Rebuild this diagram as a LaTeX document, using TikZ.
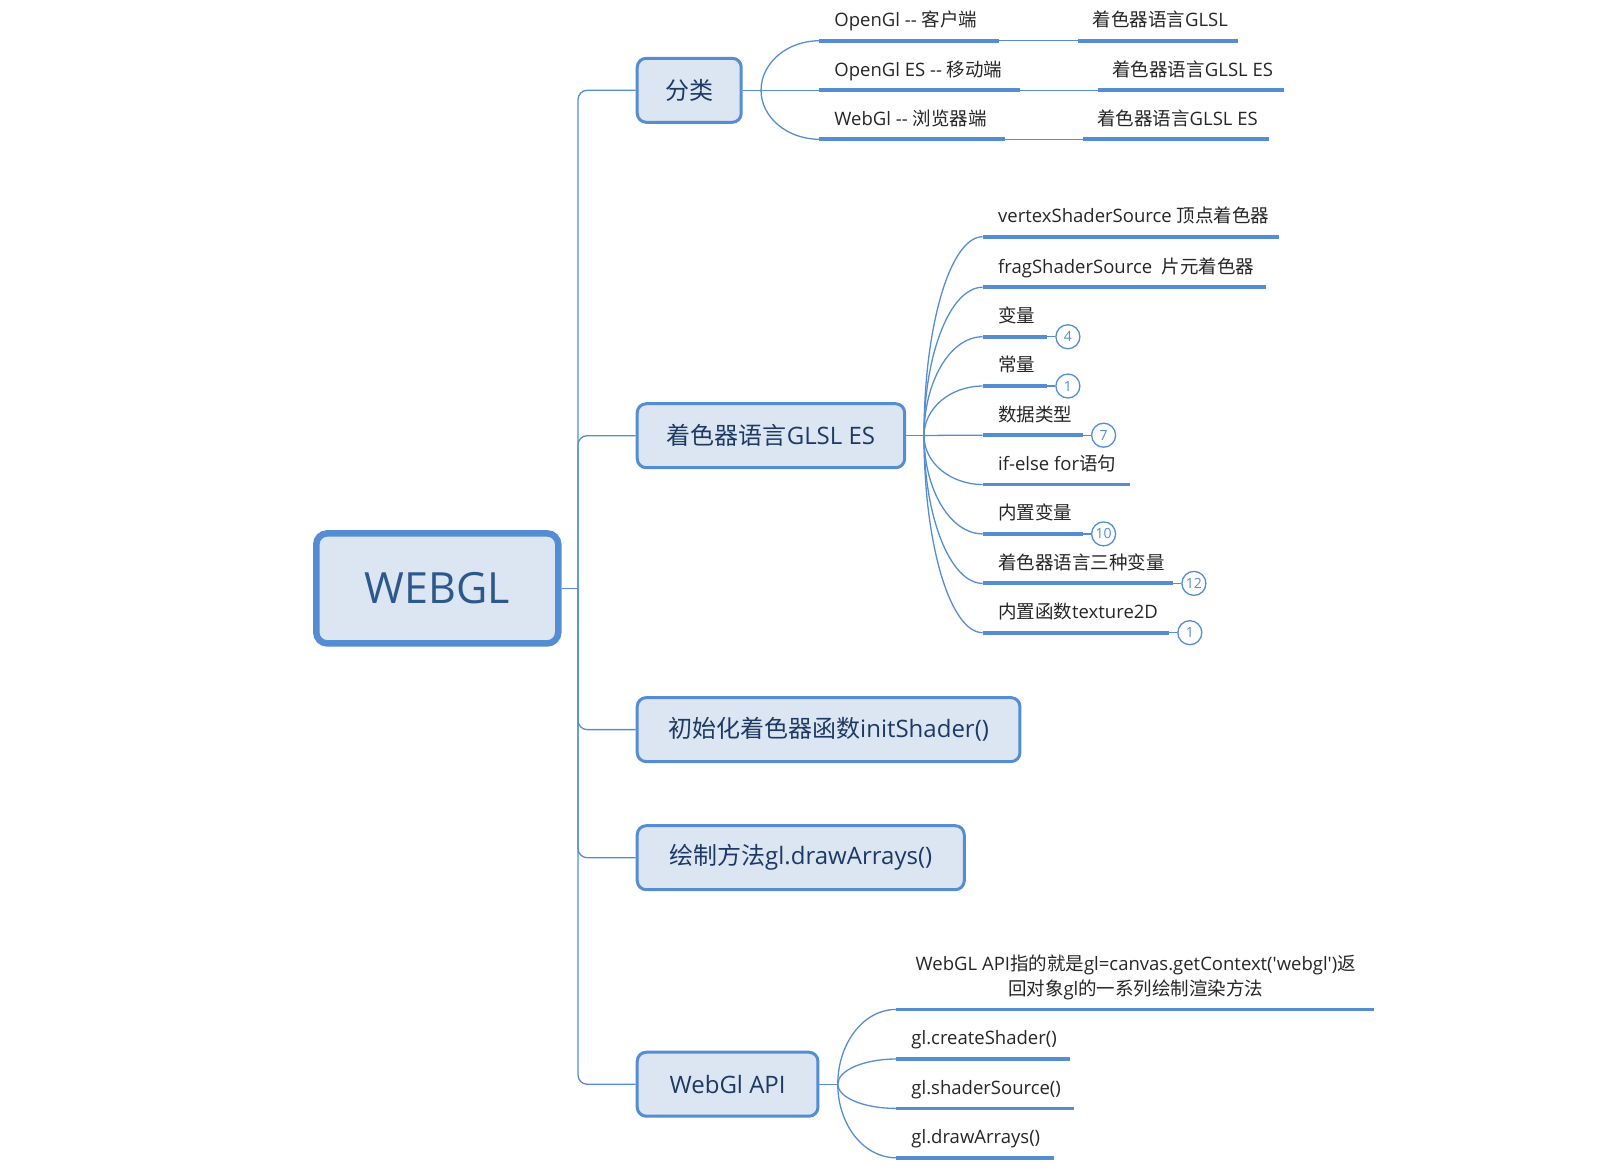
\documentclass[tikz,border=0pt]{standalone}
\usepackage{fontspec}
\setmainfont{Open Sans}[Ligatures=TeXOff]
\newfontfamily\zhf{Noto Sans CJK SC}
\newcommand\zhs[1]{{\zhf #1}}
\usetikzlibrary{calc}
\definecolor{lineblue}{RGB}{84,141,212}
\definecolor{boxfill}{RGB}{220,230,242}
\definecolor{boxtext}{RGB}{30,58,100}
\definecolor{roottext}{RGB}{45,88,140}
\definecolor{leaftext}{RGB}{38,38,38}
\newcommand\qarc[2]{\draw[conn] let \p1=(#1), \p2=(#2) in (\p1) .. controls (\x1,{\y1+0.552*(\y2-\y1)}) and ({\x2-0.552*(\x2-\x1)},\y2) .. (\p2);}
\begin{document}
\begin{tikzpicture}[x=1.0204pt,y=-1.0204pt,
  conn/.style={draw=lineblue, line width=1.3pt},
  uline/.style={draw=lineblue, line width=3.8pt},
  rootbox/.style={draw=lineblue, fill=boxfill, line width=6.5pt, rounded corners=11pt, minimum width=242pt, minimum height=110pt, text=roottext, font=\fontsize{43}{50}\selectfont},
  branch/.style={draw=lineblue, fill=boxfill, line width=3pt, rounded corners=9pt, minimum height=64pt, anchor=west, text=boxtext, font=\fontsize{24}{29}\selectfont, inner sep=0pt},
  leaf/.style={anchor=base west, inner sep=0pt, text=leaftext, font=\fontsize{18.5}{24.5}\selectfont},
  badge/.style={circle, draw=lineblue, line width=1.3pt, fill=white, minimum size=24pt, inner sep=0pt, text=lineblue, font=\fontsize{14}{16}\selectfont},
]
\useasboundingbox (0,0) rectangle (1566,1149.5);

% root and main branches
\node[rootbox] (root) at (428.5,576.6) {WEBGL};
\coordinate (hub) at (566.5,576.6);
\node[branch, minimum width=104pt] (b1) at (623,88.5) {\zhs{分类}};
\node[branch, minimum width=267.4pt] (b2) at (623,427) {\zhs{着色器语言}GLSL ES};
\node[branch, minimum width=382.7pt] (b3) at (623,715) {\zhs{初始化着色器函数}initShader()};
\node[branch, minimum width=327pt] (b4) at (623,840.5) {\zhs{绘制方法}gl.drawArrays()};
\node[branch, minimum width=180.7pt] (b5) at (623,1062.5) {WebGl API};

\draw[conn] (root.east) -- (hub);
\foreach \b in {b1,b2,b3,b4,b5} {\draw[conn, rounded corners=9pt] (hub) |- (\b.west);}

% branch 1
\coordinate (h1) at (745.8,88.5);
\draw[conn] (b1.east) -- (h1);
\coordinate (a1) at (803,39.9);
\coordinate (a2) at (803,88.5);
\coordinate (a3) at (803,136.5);
\qarc{h1}{a1}
\qarc{h1}{a2}
\qarc{h1}{a3}
\node[leaf] (t1) at (817.5,26.1) {OpenGl -- \zhs{客户端}};
\node[leaf] (t2) at (817.5,74.7) {OpenGl ES -- \zhs{移动端}};
\node[leaf] (t3) at (817.5,122.7) {WebGl -- \zhs{浏览器端}};
\draw[uline] (a1) -- (979,39.9) coordinate (a1e);
\draw[uline] (a2) -- (999.6,88.5) coordinate (a2e);
\draw[uline] (a3) -- (985,136.5) coordinate (a3e);
\coordinate (r1) at (1056.5,39.9);
\coordinate (r2) at (1076,88.5);
\coordinate (r3) at (1061,136.5);
\draw[conn] (a1e) -- (r1);
\draw[conn] (a2e) -- (r2);
\draw[conn] (a3e) -- (r3);
\node[leaf] (t1r) at (1070.5,26.1) {\zhs{着色器语言}GLSL};
\node[leaf] (t2r) at (1090,74.7) {\zhs{着色器语言}GLSL ES};
\node[leaf] (t3r) at (1075,122.7) {\zhs{着色器语言}GLSL ES};
\draw[uline] (r1) -- (1213,39.9);
\draw[uline] (r2) -- (1258,88.5);
\draw[uline] (r3) -- (1244,136.5);

% branch 2
\coordinate (h2) at (905.5,427);
\draw[conn] (b2.east) -- (h2);
\foreach \i/\y in {1/232,2/281.5,3/330,4/378.3,5/426.5,6/474.8,7/523.2,8/571.7,9/620}
  {\coordinate (g\i) at (963,\y);}
\foreach \i in {1,...,9} {\qarc{h2}{g\i}}
\node[leaf] (s1) at (978,218.2) {vertexShaderSource \zhs{顶点着色器}};
\node[leaf] (s2) at (978,267.7) {fragShaderSource~~\zhs{片元着色器}};
\node[leaf] (s3) at (978,316.2) {\zhs{变量}};
\node[leaf] (s4) at (978,364.5) {\zhs{常量}};
\node[leaf] (s5) at (978,412.7) {\zhs{数据类型}};
\node[leaf] (s6) at (978,461) {if-else for\zhs{语句}};
\node[leaf] (s7) at (978,509.4) {\zhs{内置变量}};
\node[leaf] (s8) at (978,557.9) {\zhs{着色器语言三种变量}};
\node[leaf] (s9) at (978,606.2) {\zhs{内置函数}texture2D};
\draw[uline] (g1) -- (1253,232);
\draw[uline] (g2) -- (1241,281.5);
\draw[uline] (g3) -- (1026,330) coordinate (g3e);
\draw[uline] (g4) -- (1026,378.3) coordinate (g4e);
\draw[uline] (g5) -- (1061,426.5) coordinate (g5e);
\draw[uline] (g6) -- (1107,474.8);
\draw[uline] (g7) -- (1061,523.2) coordinate (g7e);
\draw[uline] (g8) -- (1149.5,571.7) coordinate (g8e);
\draw[uline] (g9) -- (1145.5,620) coordinate (g9e);
\node[badge] (n3) at (1046.5,330) {4};
\node[badge] (n4) at (1046.5,378.3) {1};
\node[badge] (n5) at (1081.5,426.5) {7};
\node[badge] (n7) at (1081.5,523.2) {10};
\node[badge] (n8) at (1170,571.7) {12};
\node[badge] (n9) at (1166,620) {1};
\foreach \i in {3,4,5,7,8,9} {\draw[conn] (g\i e) -- (n\i);}

% branch 5
\coordinate (h5) at (821,1062.5);
\draw[conn] (b5.east) -- (h5);
\coordinate (w1) at (878,989.2);
\coordinate (w2) at (878,1037.8);
\coordinate (w3) at (878,1086.2);
\coordinate (w4) at (878,1134.6);
\qarc{h5}{w1}
\qarc{h5}{w2}
\qarc{h5}{w3}
\qarc{h5}{w4}
\node[leaf, anchor=center, align=center] (p1) at (1113,958) {WebGL API\zhs{指的就是}gl=canvas.getContext('webgl')\zhs{返}\\\zhs{回对象}gl\zhs{的一系列绘制渲染方法}};
\node[leaf] (p2) at (893,1024) {gl.createShader()};
\node[leaf] (p3) at (893,1072.4) {gl.shaderSource()};
\node[leaf] (p4) at (893,1120.8) {gl.drawArrays()};
\draw[uline] (w1) -- (1346,989.2);
\draw[uline] (w2) -- (1049,1037.8);
\draw[uline] (w3) -- (1052,1086.2);
\draw[uline] (w4) -- (1033,1134.6);
\end{tikzpicture}
\end{document}
